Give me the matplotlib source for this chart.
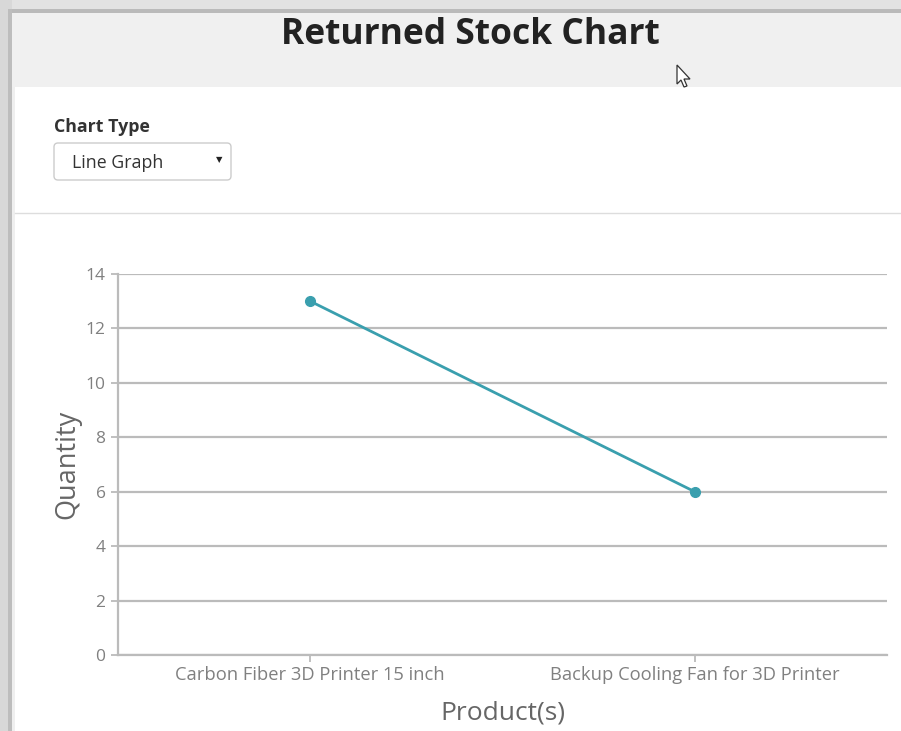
import numpy as np
import matplotlib.pyplot as plt
from matplotlib.patches import Rectangle, FancyBboxPatch, Polygon

products = ['Carbon Fiber 3D Printer 15 inch', 'Backup Cooling Fan for 3D Printer']
quantity = [13, 6]
y_ticks = [0, 2, 4, 6, 8, 10, 12, 14]

W, H = 901, 731
fig = plt.figure(figsize=(W / 100, H / 100), dpi=100)
fig.patch.set_facecolor('white')

# page furniture drawn in pixel coordinates
bg = fig.add_axes([0, 0, 1, 1], zorder=-1)
bg.set_xlim(0, W)
bg.set_ylim(H, 0)
bg.axis('off')

# window frame
bg.add_patch(Rectangle((0, 0), W, 13, color='#e2e2e2', lw=0))
bg.add_patch(Rectangle((0, 9), W, 4, color='#bababa', lw=0))
bg.add_patch(Rectangle((0, 0), 12, H, color='#d8d8d8', lw=0))
bg.add_patch(Rectangle((8, 9), 4, H, color='#bdbdbd', lw=0))
bg.add_patch(Rectangle((12, 13), 3, H, color='#efefef', lw=0))

# header strip
bg.add_patch(Rectangle((12, 13), W, 74, color='#f0f0f0', lw=0))
bg.text(470, 35, 'Returned Stock Chart', ha='center', va='center',
        fontsize=25.5, fontweight='bold', family='Open Sans', color='#222222')

# mouse pointer
cursor = [(677, 65), (677, 84), (681, 80), (684, 87), (687, 86), (684, 79), (690, 79)]
bg.add_patch(Polygon(cursor, closed=True, fc='white', ec='#333333', lw=0.9))

# chart type selector
bg.text(54, 127, 'Chart Type', ha='left', va='center', fontsize=12.8,
        fontweight='bold', family='Open Sans', color='#333333')
bg.add_patch(FancyBboxPatch((54, 143), 177, 37, boxstyle='round,pad=0,rounding_size=4',
                            fc='white', ec='#cccccc', lw=1))
bg.text(72, 163, 'Line Graph', ha='left', va='center', fontsize=12.8,
        family='Open Sans', color='#333333')
bg.text(219, 160, '\u25BC', ha='center', va='center', fontsize=6, color='#222222')

bg.plot([15, W], [213, 213], color='#dddddd', lw=1)

# chart
ax = fig.add_axes([118 / W, (H - 655) / H, 769 / W, 381 / H])
x = np.arange(len(products))
ax.plot(x, quantity, color='#3a9fae', lw=2, marker='o', markersize=7, zorder=3)

ax.set_xlim(-0.5, len(products) - 0.5)
ax.set_ylim(0, 14)
ax.set_yticks(y_ticks)
ax.set_xticks(x)
ax.set_xticklabels(products)
ax.yaxis.grid(True, color='#bbbbbb', lw=1.6)
ax.set_axisbelow(True)

for side in ['top', 'right']:
    ax.spines[side].set_visible(False)
for side in ['left', 'bottom']:
    ax.spines[side].set_color('#bbbbbb')
    ax.spines[side].set_linewidth(1.6)

ax.tick_params(axis='both', colors='#bbbbbb', length=5, width=1.3)
ax.tick_params(axis='y', labelcolor='#808080', labelsize=12.5, pad=4)
ax.tick_params(axis='x', labelcolor='#808080', labelsize=13.2, pad=3)
for lbl in ax.get_xticklabels() + ax.get_yticklabels():
    lbl.set_family('Open Sans')

ax.set_ylabel('Quantity', fontsize=19.5, color='#666666', family='Open Sans', labelpad=3)
ax.set_xlabel('Product(s)', fontsize=19, color='#666666', family='Open Sans', labelpad=12)

fig.savefig('out.png', dpi=100)
